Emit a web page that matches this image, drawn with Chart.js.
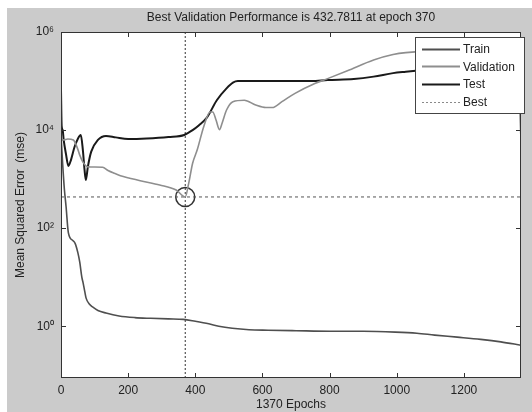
<!DOCTYPE html>
<html>
<head>
<meta charset="utf-8">
<script src="https://cdn.jsdelivr.net/npm/chart.js@4/dist/chart.umd.min.js"></script>
<style>
  html, body { margin: 0; padding: 0; background: #ffffff; }
  #wrap { position: relative; width: 532px; height: 412px; }
</style>
</head>
<body>
<div id="wrap"><canvas id="c" width="532" height="412"></canvas></div>
<script>
// ---- data ----
const bestEpoch = 370;
const bestPerf = 432.7811;
const totalEpochs = 1370;

const trainEpochs = [0, 5, 10, 15, 22, 35, 42, 50, 56, 62, 66, 71, 75, 85, 95, 110, 134, 173, 220, 267, 320, 364, 400, 440, 470, 510, 560, 617, 700, 802, 900, 996, 1060, 1113, 1180, 1250, 1310, 1370];
const trainMse    = [8000, 2000, 630, 280, 80, 56, 49, 32, 20, 10, 7.6, 5, 3.7, 2.8, 2.45, 2.1, 1.86, 1.62, 1.5, 1.45, 1.41, 1.38, 1.26, 1.12, 1.0, 0.91, 0.85, 0.83, 0.81, 0.79, 0.79, 0.76, 0.72, 0.66, 0.6, 0.54, 0.48, 0.41];

const valEpochs = [0, 3, 8, 20, 37, 45, 51, 55, 65, 75, 80, 124, 140, 158, 177, 236, 294, 343, 370, 380, 392, 406, 425, 444, 452, 462, 472, 480, 493, 512, 546, 580, 610, 629, 658, 697, 756, 794, 853, 931, 989, 1027, 1080, 1150, 1250, 1320, 1357, 1370];
const valMse    = [8500, 6300, 6300, 6600, 6300, 5000, 3900, 3200, 2250, 1850, 1780, 1740, 1500, 1320, 1175, 930, 760, 600, 432.78, 800, 2100, 4000, 11750, 23400, 23400, 15800, 10200, 14000, 25700, 38000, 40700, 32400, 28800, 28800, 38000, 56000, 89000, 112000, 162000, 269000, 347000, 380000, 398000, 380000, 282000, 178000, 107000, 79000];

const testEpochs = [0, 2, 5, 8, 15, 22, 30, 40, 50, 59, 65, 70, 74, 80, 90, 110, 134, 163, 200, 255, 320, 367, 392, 411, 435, 464, 493, 512, 527, 746, 794, 872, 931, 989, 1027, 1100, 1200, 1300, 1365, 1370];
const testMse    = [66000, 12000, 10000, 6300, 3200, 1860, 2500, 4470, 6600, 7900, 4000, 1580, 955, 1780, 3630, 6300, 7600, 7100, 6600, 6760, 7240, 7940, 10000, 12600, 18200, 40700, 70800, 93000, 100000, 100000, 105000, 110000, 123000, 145000, 155000, 174000, 200000, 240000, 257000, 7900];

const xTicks = [0, 200, 400, 600, 800, 1000, 1200];
const xTickLabels = ['0', '200', '400', '600', '800', '1000', '1200'];
const yTicks = [1, 100, 10000, 1000000];
const yTickLabels = ['10\u2070', '10\u00B2', '10\u2074', '10\u2076'];
const yMin = 0.088, yMax = 1000000;

const seriesNames = ['Train', 'Validation', 'Test', 'Best'];

// ---- styles ----
const FONT = '"Liberation Sans", Arial, sans-serif';
const TXT = '#222222';
const cTrain = '#4f4f4f', cVal = '#8e8e8e', cTest = '#1a1a1a', cBest = '#555555';

function pts(xs, ys) { return xs.map((x, i) => ({x: x, y: ys[i]})); }

const bgPlugin = {
  id: 'bg',
  beforeDraw(chart) {
    const {ctx, chartArea: a} = chart;
    ctx.save();
    ctx.fillStyle = '#ffffff';
    ctx.fillRect(0, 0, chart.width, chart.height);
    ctx.fillStyle = '#cbcbcb';
    ctx.fillRect(7, 8, chart.width - 7, chart.height - 8);
    ctx.fillStyle = '#ffffff';
    ctx.fillRect(a.left, a.top, a.right - a.left, a.bottom - a.top);
    ctx.restore();
  },
  afterDatasetsDraw(chart) {
    const {ctx, chartArea: a, scales} = chart;
    ctx.save();
    // frame
    ctx.strokeStyle = '#333333';
    ctx.lineWidth = 1;
    ctx.strokeRect(Math.round(a.left) + 0.5, Math.round(a.top) + 0.5, Math.round(a.right - a.left) - 1, Math.round(a.bottom - a.top) - 1);
    // inward ticks
    const tl = 5;
    ctx.beginPath();
    xTicks.forEach(v => {
      const px = Math.round(scales.x.getPixelForValue(v)) + 0.5;
      ctx.moveTo(px, a.bottom); ctx.lineTo(px, a.bottom - tl);
      ctx.moveTo(px, a.top); ctx.lineTo(px, a.top + tl);
    });
    yTicks.forEach(v => {
      const py = Math.round(scales.y.getPixelForValue(v)) + 0.5;
      ctx.moveTo(a.left, py); ctx.lineTo(a.left + tl, py);
      ctx.moveTo(a.right, py); ctx.lineTo(a.right - tl, py);
    });
    ctx.stroke();

    // legend box
    const lx = 415, ly = 37, lw = 109, lh = 76;
    ctx.fillStyle = '#ffffff';
    ctx.fillRect(lx, ly, lw, lh);
    ctx.strokeStyle = '#444444';
    ctx.lineWidth = 1;
    ctx.strokeRect(lx + 0.5, ly + 0.5, lw, lh);
    const ds = chart.data.datasets;
    const entries = [
      {label: ds[0].label, color: ds[0].borderColor, w: 2, dash: []},
      {label: ds[1].label, color: ds[1].borderColor, w: 2, dash: []},
      {label: ds[2].label, color: ds[2].borderColor, w: 2, dash: []},
      {label: ds[3].label, color: '#8a8a8a', w: 1, dash: [2, 2]}
    ];
    ctx.font = '12px ' + FONT;
    ctx.textBaseline = 'middle';
    ctx.textAlign = 'left';
    entries.forEach((e, i) => {
      const y = ly + 11.5 + i * 17.8;
      ctx.beginPath();
      ctx.setLineDash(e.dash);
      ctx.strokeStyle = e.color;
      ctx.lineWidth = e.w;
      ctx.moveTo(422, Math.round(y) + 0.5);
      ctx.lineTo(460, Math.round(y) + 0.5);
      ctx.stroke();
      ctx.setLineDash([]);
      ctx.fillStyle = TXT;
      ctx.fillText(e.label, 463, y + 1);
    });
    ctx.restore();
  }
};

const chart = new Chart(document.getElementById('c'), {
  type: 'line',
  data: {
    datasets: [
      { label: seriesNames[0], data: pts(trainEpochs, trainMse), borderColor: cTrain, borderWidth: 1.6, pointRadius: 0, cubicInterpolationMode: 'monotone', fill: false },
      { label: seriesNames[1], data: pts(valEpochs, valMse), borderColor: cVal, borderWidth: 1.6, pointRadius: 0, cubicInterpolationMode: 'monotone', fill: false },
      { label: seriesNames[2], data: pts(testEpochs, testMse), borderColor: cTest, borderWidth: 2, pointRadius: 0, cubicInterpolationMode: 'monotone', fill: false },
      { label: seriesNames[3], data: [{x: 0, y: bestPerf}, {x: totalEpochs, y: bestPerf}], borderColor: cBest, borderWidth: 1, borderDash: [3, 3], pointRadius: 0, fill: false },
      { label: 'bestV', data: [{x: bestEpoch, y: yMin}, {x: bestEpoch, y: yMax}], borderColor: '#333333', borderWidth: 1, borderDash: [2, 2], pointRadius: 0, fill: false },
      { label: 'bestPt', data: [{x: bestEpoch, y: bestPerf}], showLine: false, pointRadius: 9.5, pointStyle: 'circle', pointBorderColor: '#333333', pointBackgroundColor: 'rgba(0,0,0,0)', pointBorderWidth: 1.5, borderColor: '#333333' }
    ]
  },
  options: {
    responsive: false,
    animation: false,
    events: [],
    layout: { padding: { left: 0, right: 1, top: 0, bottom: 0 } },
    plugins: {
      legend: { display: false },
      tooltip: { enabled: false },
      title: {
        display: true,
        fullSize: false,
        text: 'Best Validation Performance is ' + bestPerf + ' at epoch ' + bestEpoch,
        color: TXT,
        font: { family: FONT, size: 12, weight: 'normal' },
        padding: { top: 10, bottom: 7.6 }
      }
    },
    scales: {
      x: {
        type: 'linear',
        min: 0, max: totalEpochs,
        afterBuildTicks: s => { s.ticks = xTicks.map(v => ({value: v})); },
        afterFit: s => { s.height = 34; },
        grid: { display: false, drawTicks: false },
        border: { display: false },
        ticks: {
          color: TXT, font: { family: FONT, size: 12 }, padding: 5, maxRotation: 0, autoSkip: false,
          callback: (v) => { const i = xTicks.indexOf(v); return i >= 0 ? xTickLabels[i] : ''; }
        },
        title: { display: true, text: totalEpochs + ' Epochs', color: TXT, font: { family: FONT, size: 12 }, padding: { top: 0, bottom: 0 } }
      },
      y: {
        type: 'logarithmic',
        min: yMin, max: yMax,
        afterBuildTicks: s => { s.ticks = yTicks.map(v => ({value: v})); },
        afterFit: s => { s.width = 61; },
        grid: { display: false, drawTicks: false },
        border: { display: false },
        ticks: {
          color: TXT, font: { family: FONT, size: 12 }, padding: 7, autoSkip: false,
          callback: (v) => { const i = yTicks.indexOf(v); return i >= 0 ? yTickLabels[i] : ''; }
        },
        title: { display: true, text: 'Mean Squared Error  (mse)', color: TXT, font: { family: FONT, size: 12 }, padding: { top: 13, bottom: 0 } }
      }
    }
  },
  plugins: [bgPlugin]
});
</script>
</body>
</html>
